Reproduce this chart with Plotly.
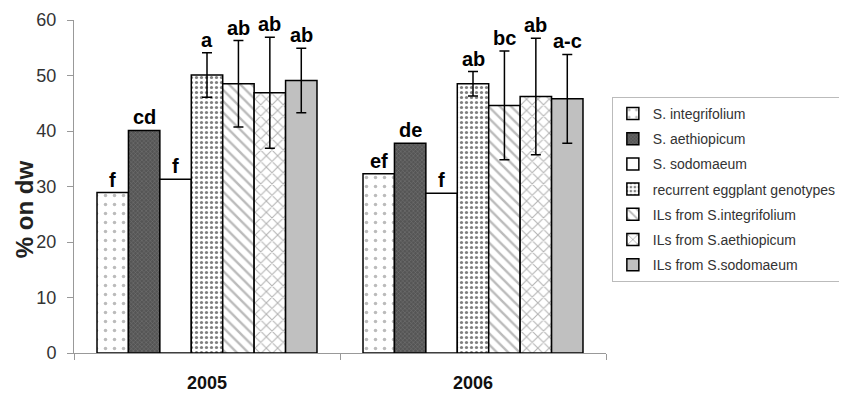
import plotly.graph_objects as go

years = ["2005", "2006"]
series_names = [
    "S. integrifolium",
    "S. aethiopicum",
    "S. sodomaeum",
    "recurrent eggplant genotypes",
    "ILs from S.integrifolium",
    "ILs from S.aethiopicum",
    "ILs from S.sodomaeum",
]
values = [
    [28.9, 32.3],
    [40.1, 37.8],
    [31.3, 28.8],
    [50.1, 48.5],
    [48.5, 44.6],
    [46.9, 46.2],
    [49.1, 45.8],
]
errors = [
    [None, None],
    [None, None],
    [None, None],
    [4.0, 2.2],
    [7.8, 9.8],
    [10.0, 10.5],
    [5.8, 8.0],
]
letters = [
    ["f", "ef"],
    ["cd", "de"],
    ["f", "f"],
    ["a", "ab"],
    ["ab", "bc"],
    ["ab", "ab"],
    ["ab", "a-c"],
]
y_title = "% on dw"

styles = [
    dict(color="white", pattern=dict(shape=".", fgcolor="#777", bgcolor="white", size=9, solidity=0.12)),
    dict(color="#666", pattern=dict(shape="x", fgcolor="#999", bgcolor="#555", size=3, solidity=0.3)),
    dict(color="white"),
    dict(color="white", pattern=dict(shape=".", fgcolor="black", bgcolor="white", size=5, solidity=0.33)),
    dict(color="white", pattern=dict(shape="\\", fgcolor="#777", bgcolor="white", size=8, solidity=0.3)),
    dict(color="white", pattern=dict(shape="x", fgcolor="#666", bgcolor="white", size=8, solidity=0.25)),
    dict(color="#c0c0c0"),
]

FONT = "Arial, Liberation Sans, sans-serif"
fig = go.Figure()
for i, name in enumerate(series_names):
    st = styles[i]
    marker = dict(color=st["color"], line=dict(color="black", width=1.5))
    if "pattern" in st:
        marker["pattern"] = st["pattern"]
    has_err = any(e is not None for e in errors[i])
    fig.add_trace(go.Bar(
        name=name, x=years, y=values[i], marker=marker, legendgroup="g%d" % i,
        error_y=dict(type="data", array=[e if e is not None else 0 for e in errors[i]],
                     visible=has_err, color="black", thickness=1.5, width=5),
    ))

# letters above bars / error bars as annotations tied to the data
n = len(series_names)
for i in range(n):
    for j, yr in enumerate(years):
        top = values[i][j] + (errors[i][j] or 0)
        fig.add_annotation(
            x=j, y=top, text="<b>%s</b>" % letters[i][j], showarrow=False,
            xref="x", yref="y", yanchor="bottom", yshift=0,
            xshift=(i - (n - 1) / 2) * 31.4,
            font=dict(family=FONT, size=20, color="black"),
        )

fig.add_annotation(
    x=-0.094, y=0.432, xref="paper", yref="paper", text="<b>%s</b>" % y_title,
    showarrow=False, textangle=-90, xanchor="center", yanchor="middle",
    font=dict(family=FONT, size=24, color="#222"),
)

fig.update_layout(
    width=839, height=388,
    margin=dict(l=66, r=241, t=12, b=43, autoexpand=False),
    paper_bgcolor="white", plot_bgcolor="white",
    barmode="group", bargap=0.173, bargroupgap=0,
    font=dict(family=FONT, color="#222"),
    showlegend=True,
    legend=dict(x=1.011, y=0.769, xanchor="left", yanchor="top",
                bordercolor="#bbb", borderwidth=1, bgcolor="white",
                font=dict(family=FONT, size=14, color="#333"),
                tracegroupgap=4, itemwidth=30),
    yaxis=dict(range=[0, 60], dtick=10, showgrid=False, showline=True, automargin=False,
               linecolor="#999", linewidth=1, ticks="outside", ticklen=6,
               tickcolor="#999", tickfont=dict(size=18, color="#333"), ticklabelstandoff=7,
               zeroline=False),
    xaxis=dict(type="category", range=[-0.5, len(years) - 0.5], showline=True, automargin=False,
               linecolor="#999", linewidth=1, ticks="outside",
               tickson="boundaries", ticklen=6, tickcolor="#999", ticklabelstandoff=13,
               tickfont=dict(size=18, color="#111"), tickprefix="<b>", ticksuffix="</b>"),
)

fig.write_html("out.html")
